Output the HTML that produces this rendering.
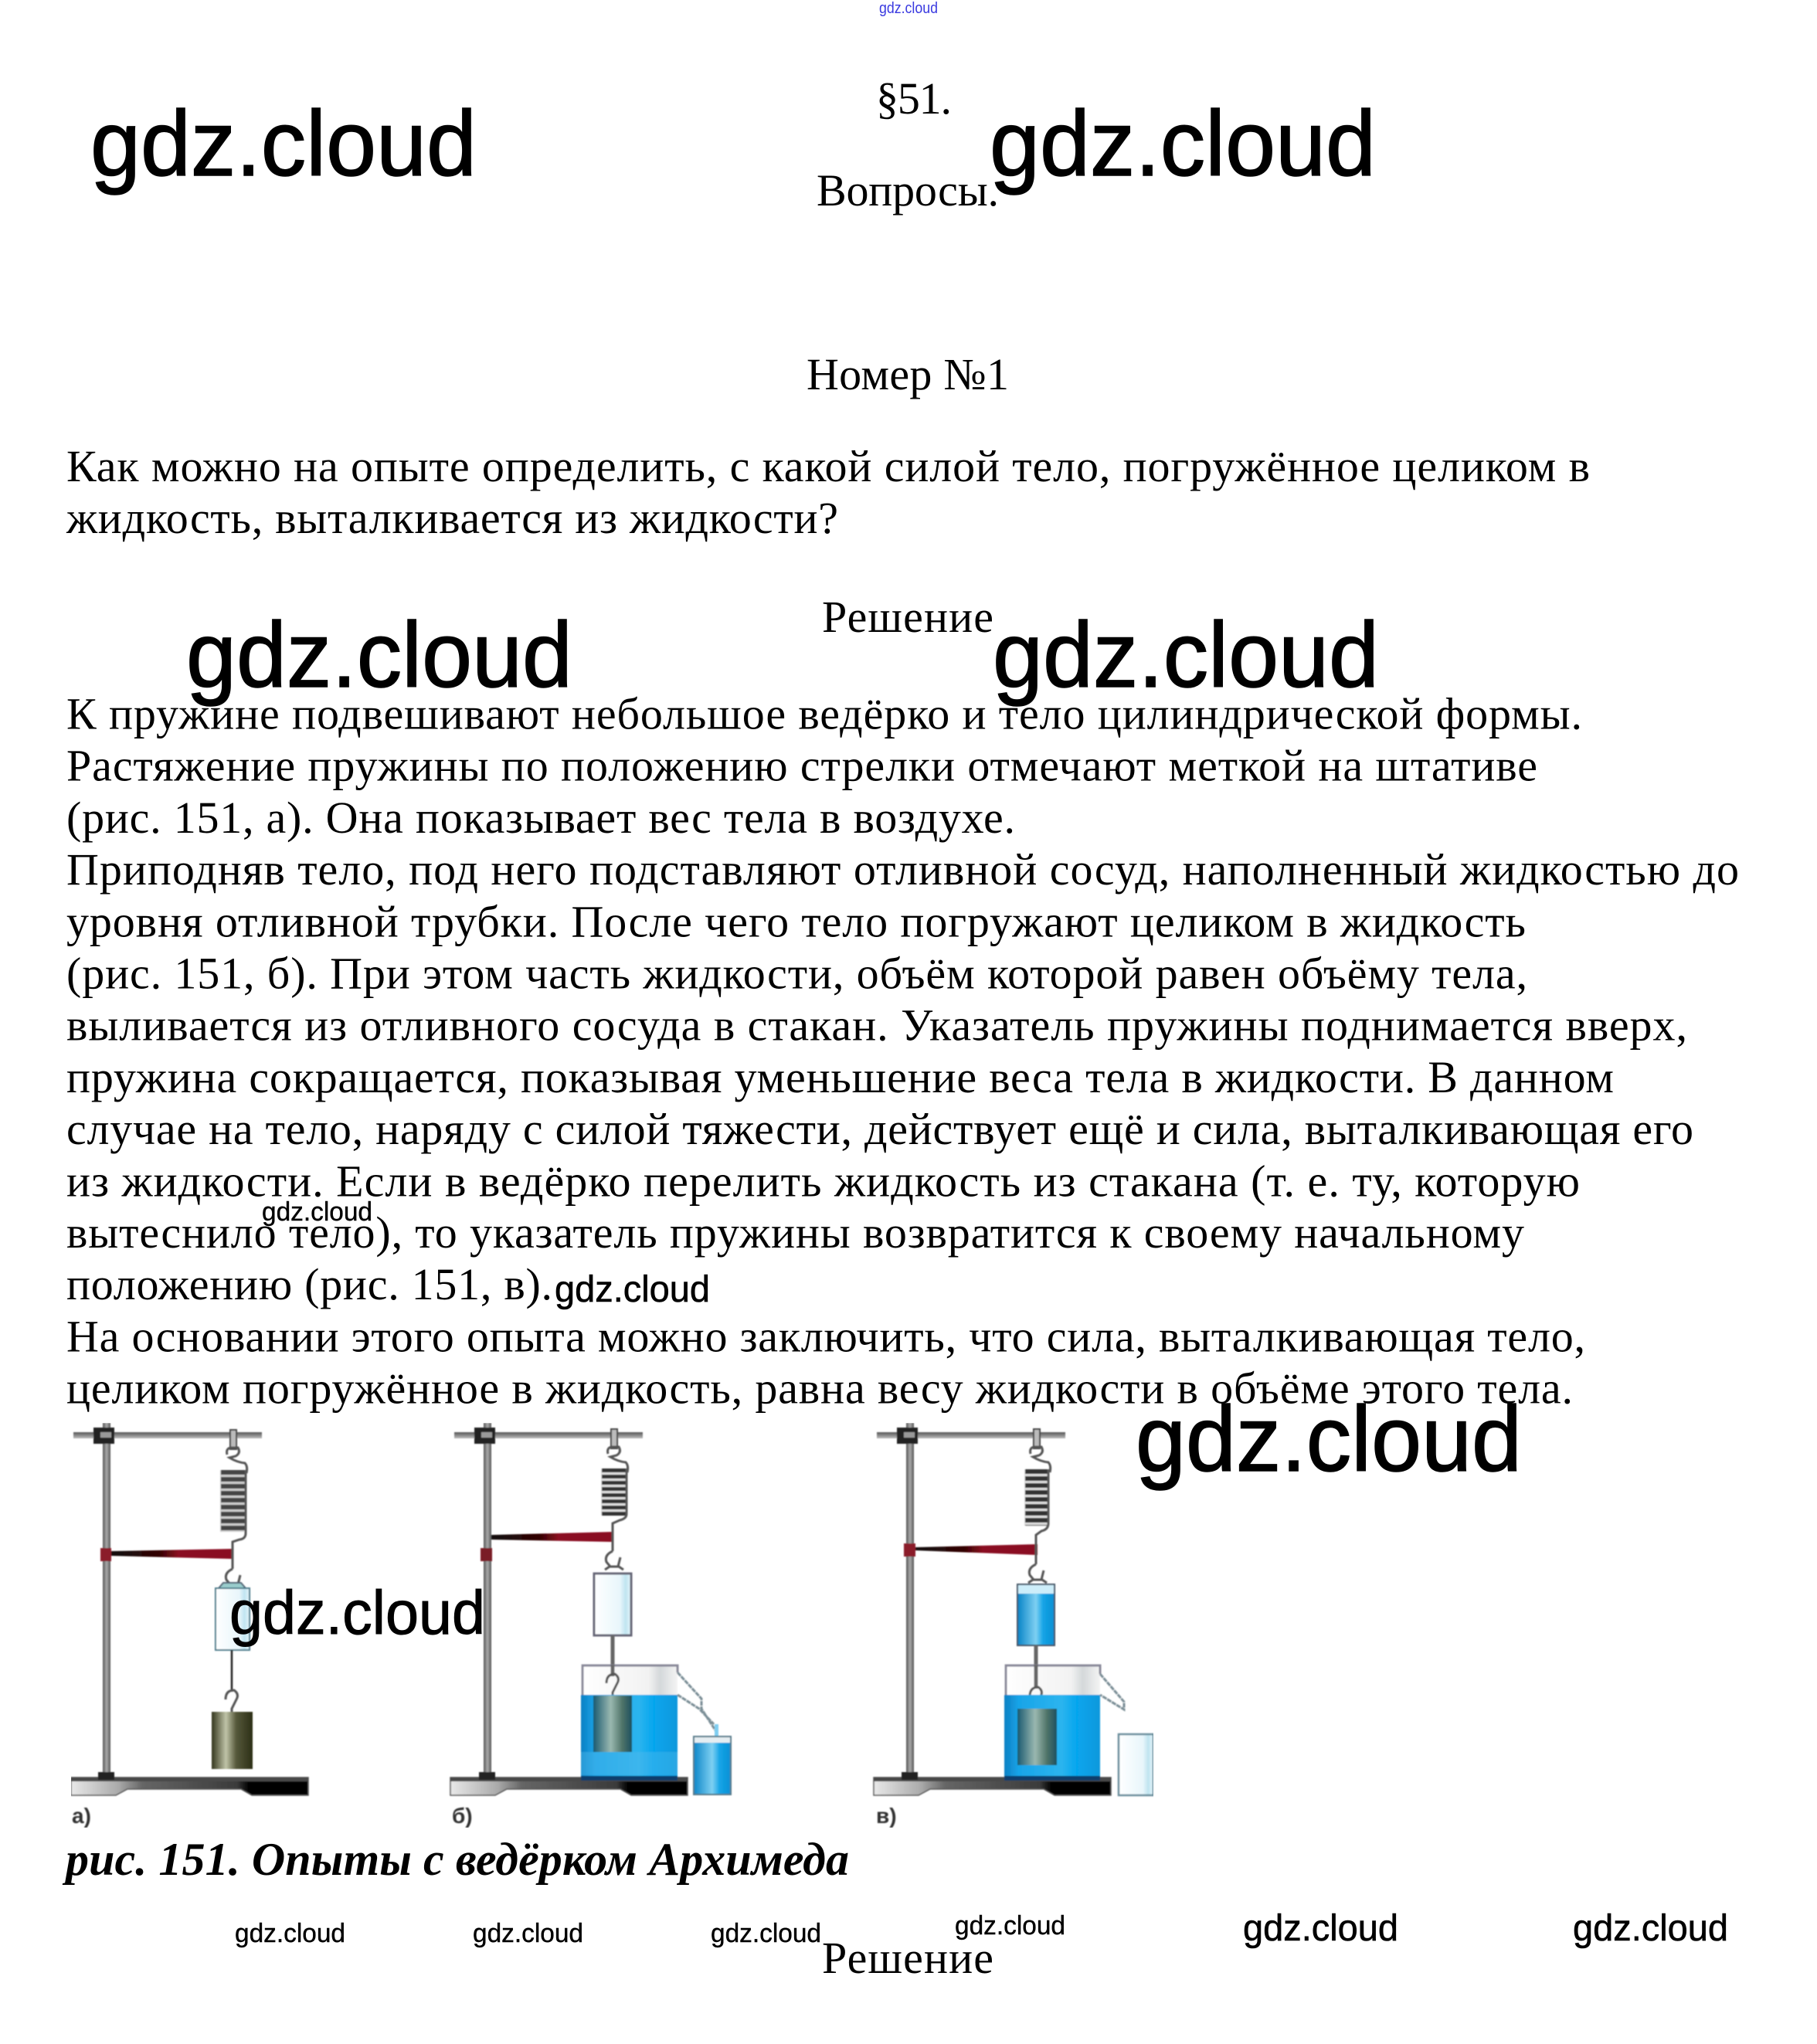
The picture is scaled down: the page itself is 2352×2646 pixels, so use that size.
<!DOCTYPE html>
<html lang="ru"><head><meta charset="utf-8"><title>§51</title>
<style>
html,body{margin:0;padding:0;background:#fff}
svg{display:block}
.t{font-family:"Liberation Serif","DejaVu Serif",serif;font-size:58px;fill:#000}
.c{font-family:"Liberation Serif","DejaVu Serif",serif;font-size:60px;font-weight:bold;font-style:italic;fill:#000}
.w{font-family:"Liberation Sans","DejaVu Sans",sans-serif;fill:#000;stroke:#000}
.l{font-family:"Liberation Sans","DejaVu Sans",sans-serif;font-size:28px;font-weight:bold;fill:#333}
</style></head><body>
<svg xmlns="http://www.w3.org/2000/svg" width="2352" height="2646" viewBox="0 0 2352 2646">
<defs>
<filter id="soft" x="0" y="0" width="1" height="1"><feGaussianBlur stdDeviation="0.7"/></filter>
<linearGradient id="base"><stop offset="0" stop-color="#e8e8e8"/><stop offset=".2" stop-color="#aaa"/><stop offset=".3" stop-color="#666"/><stop offset=".7" stop-color="#3a3a3a"/><stop offset=".75" stop-color="#000"/><stop offset="1" stop-color="#000"/></linearGradient>
<linearGradient id="vr"><stop offset="0" stop-color="#555"/><stop offset=".5" stop-color="#aaa"/><stop offset="1" stop-color="#555"/></linearGradient>
<linearGradient id="hr" x1="0" y1="0" x2="0" y2="1"><stop offset="0" stop-color="#555"/><stop offset=".5" stop-color="#888"/><stop offset="1" stop-color="#bbb"/></linearGradient>
<linearGradient id="ptr"><stop offset="0" stop-color="#111"/><stop offset=".4" stop-color="#300"/><stop offset=".55" stop-color="#8a1020"/><stop offset="1" stop-color="#8a1020"/></linearGradient>
<linearGradient id="olive"><stop offset="0" stop-color="#33351c"/><stop offset=".35" stop-color="#c0c4a8"/><stop offset=".6" stop-color="#55583a"/><stop offset="1" stop-color="#2c2e16"/></linearGradient>
<linearGradient id="wet"><stop offset="0" stop-color="#1a5a70"/><stop offset=".45" stop-color="#9ab8b0"/><stop offset=".75" stop-color="#4f7468"/><stop offset="1" stop-color="#1d5060"/></linearGradient>
<linearGradient id="water"><stop offset="0" stop-color="#0c80c4"/><stop offset=".15" stop-color="#18a4e8"/><stop offset=".6" stop-color="#2cb4ee"/><stop offset=".75" stop-color="#06a6ee"/><stop offset="1" stop-color="#0a98dc"/></linearGradient>
<linearGradient id="small"><stop offset="0" stop-color="#0c86c8"/><stop offset=".5" stop-color="#7ed0f2"/><stop offset=".7" stop-color="#14a4e6"/><stop offset="1" stop-color="#0a90d4"/></linearGradient>
<linearGradient id="pale"><stop offset="0" stop-color="#fff"/><stop offset=".7" stop-color="#e8f6fb"/><stop offset=".85" stop-color="#bfe4f0"/><stop offset="1" stop-color="#e8f6fb"/></linearGradient>
<linearGradient id="air"><stop offset="0" stop-color="#fff"/><stop offset=".7" stop-color="#f2f2f2"/><stop offset=".82" stop-color="#d4d8da"/><stop offset="1" stop-color="#f4f4f4"/></linearGradient>
<g id="stand">
<rect x="133" y="1842" width="10" height="456" fill="url(#vr)"/>
<rect x="95" y="1854" width="244" height="8" fill="url(#hr)"/>
<rect x="121" y="1848" width="27" height="21" fill="#222"/>
<rect x="130" y="1854" width="14" height="7" fill="#999"/>
<rect x="127" y="2294" width="21" height="10" fill="#222"/>
</g>
<g id="baseplate">
<path d="M92 2301H399V2324H326L312 2316H165L150 2324H92Z" fill="url(#base)" stroke="#555" stroke-width="1.5"/>
<rect x="92" y="2301" width="307" height="5" fill="#4a4a4a"/>
</g>
<g id="squig" fill="none" stroke="#555" stroke-width="3">
<rect x="-4" y="-26" width="8" height="25" fill="#bbb" stroke="#444" stroke-width="2"/>
<path d="M-8 6Q-10 -2 -3 -3H6Q10 4 3 8L-5 10Q5 16 15 17Q19 21 17 30"/>
</g>
<g id="ring" fill="none" stroke="#555" stroke-width="3">
<path d="M0 0Q-11 5 -8 14L-3 20H7L10 8"/>
<path d="M-10 24L-4 20M8 20L14 24"/>
</g>
<g id="hook" fill="none" stroke="#555" stroke-width="3">
<path d="M-8 12Q-8 0 3 0Q10 5 6 12L0 24V28"/>
</g>
</defs>

<g filter="url(#soft)">
<!-- figure a -->
<use href="#baseplate"/>
<use href="#stand"/>
<rect x="130" y="2004" width="14" height="17" fill="#8b1a2b"/>
<polygon points="144,2008 301,2005 301,2018 144,2014" fill="url(#ptr)"/>
<use href="#squig" x="302" y="1877"/>
<line x1="302" y1="1903" x2="302" y2="1983" stroke="#ccc" stroke-width="34"/>
<line x1="302" y1="1903" x2="302" y2="1983" stroke="#444" stroke-width="32" stroke-dasharray="6 3"/>
<path d="M318 1903V1985Q318 1992 310 1993L301 1996V2031" fill="none" stroke="#555" stroke-width="3"/>
<use href="#ring" x="301" y="2031"/>
<polygon points="283,2056 289,2049 312,2049 318,2056" fill="#9cc" stroke="#567" stroke-width="2"/>
<rect x="279" y="2056" width="44" height="80" fill="url(#pale)" stroke="#4a7a8a" stroke-width="2"/>
<line x1="300" y1="2136" x2="300" y2="2190" stroke="#222" stroke-width="2.5"/>
<use href="#hook" x="300" y="2188"/>
<rect x="274" y="2216" width="53" height="74" fill="url(#olive)"/>
<text class="l" x="93" y="2360">а)</text>

<!-- figure b -->
<use href="#baseplate" x="491"/>
<use href="#stand" x="493"/>
<rect x="622" y="2004" width="15" height="17" fill="#7a1a28"/>
<polygon points="636,1987 793,1983 793,1996 636,1993" fill="url(#ptr)"/>
<use href="#squig" x="795" y="1876"/>
<line x1="795" y1="1901" x2="795" y2="1962" stroke="#ddd" stroke-width="34"/>
<line x1="795" y1="1901" x2="795" y2="1962" stroke="#333" stroke-width="32" stroke-dasharray="5 3"/>
<path d="M811 1901V1960Q811 1966 802 1968L793 1972V2008" fill="none" stroke="#555" stroke-width="3"/>
<use href="#ring" x="793" y="2008"/>
<rect x="769" y="2037" width="48" height="80" fill="url(#pale)" stroke="#667" stroke-width="3"/>
<line x1="793" y1="2117" x2="793" y2="2170" stroke="#666" stroke-width="5"/>
<rect x="752" y="2155" width="125" height="39" fill="url(#air)"/>
<path d="M754 2194V2156H877V2165" fill="none" stroke="#889" stroke-width="3"/>
<line x1="793" y1="2155" x2="793" y2="2170" stroke="#666" stroke-width="5"/>
<use href="#hook" x="793" y="2167"/>
<rect x="752" y="2194" width="125" height="111" fill="url(#water)"/>
<rect x="752" y="2268" width="125" height="30" fill="#4fb8ec" opacity=".45"/>
<rect x="752" y="2299" width="125" height="6" fill="#083c6c"/>
<rect x="768" y="2195" width="50" height="73" fill="url(#wet)"/>
<path d="M877 2165L908 2199V2212L928 2243M877 2194L905 2212L924 2232" fill="none" stroke="#7a8e96" stroke-width="3" stroke-dasharray="6 1"/>
<rect x="925" y="2232" width="5" height="16" fill="#7ecdf0"/>
<rect x="898" y="2248" width="48" height="75" fill="url(#small)" stroke="#567a8a" stroke-width="2"/>
<rect x="899" y="2249" width="46" height="7" fill="#e6eef2"/>
<text class="l" x="585" y="2360">б)</text>

<!-- figure c -->
<use href="#baseplate" x="1039"/>
<use href="#stand" x="1040"/>
<rect x="1170" y="1998" width="15" height="17" fill="#8b1a2b"/>
<polygon points="1185,2003 1343,1999 1343,2013 1185,2007" fill="url(#ptr)"/>
<use href="#squig" x="1342" y="1876"/>
<line x1="1342" y1="1902" x2="1342" y2="1975" stroke="#ddd" stroke-width="32"/>
<line x1="1342" y1="1902" x2="1342" y2="1975" stroke="#333" stroke-width="30" stroke-dasharray="6 3"/>
<path d="M1357 1902V1972Q1357 1980 1348 1982L1341 1987V2025" fill="none" stroke="#555" stroke-width="3"/>
<use href="#ring" x="1341" y="2025"/>
<rect x="1317" y="2051" width="48" height="79" fill="#cdeefa" stroke="#456" stroke-width="2"/>
<rect x="1318" y="2063" width="46" height="66" fill="url(#small)"/>
<line x1="1341" y1="2130" x2="1341" y2="2186" stroke="#666" stroke-width="5"/>
<rect x="1300" y="2155" width="124" height="39" fill="url(#air)"/>
<path d="M1302 2194V2156H1424V2167" fill="none" stroke="#889" stroke-width="3"/>
<line x1="1341" y1="2155" x2="1341" y2="2186" stroke="#666" stroke-width="5"/>
<use href="#hook" x="1341" y="2184"/>
<rect x="1300" y="2194" width="124" height="111" fill="url(#water)"/>
<rect x="1300" y="2299" width="124" height="6" fill="#083c6c"/>
<rect x="1317" y="2212" width="51" height="73" fill="url(#wet)"/>
<path d="M1424 2167L1455 2203V2213L1424 2194" fill="none" stroke="#7a8e96" stroke-width="3" stroke-dasharray="6 1"/>
<rect x="1448" y="2245" width="45" height="79" fill="url(#pale)" stroke="#6a8e9c" stroke-width="2.5"/>
<text class="l" x="1134" y="2360">в)</text>
</g>

<!-- headings -->
<text class="t" x="1134" y="147" textLength="98" lengthAdjust="spacing">§51.</text>
<text class="t" x="1057" y="266" textLength="236" lengthAdjust="spacing">Вопросы.</text>
<text class="t" x="1044" y="504" textLength="262" lengthAdjust="spacing">Номер №1</text>
<text class="t" x="86" y="623" textLength="1972" lengthAdjust="spacing">Как можно на опыте определить, с какой силой тело, погружённое целиком в</text>
<text class="t" x="86" y="690" textLength="999" lengthAdjust="spacing">жидкость, выталкивается из жидкости?</text>
<text class="t" x="1064" y="818" textLength="222" lengthAdjust="spacing">Решение</text>

<!-- body -->
<text class="t" x="86" y="943.5" textLength="1962" lengthAdjust="spacing">К пружине подвешивают небольшое ведёрко и тело цилиндрической формы.</text>
<text class="t" x="86" y="1010.7" textLength="1904" lengthAdjust="spacing">Растяжение пружины по положению стрелки отмечают меткой на штативе</text>
<text class="t" x="86" y="1077.9" textLength="1228" lengthAdjust="spacing">(рис. 151, а). Она показывает вес тела в воздухе.</text>
<text class="t" x="86" y="1145.1" textLength="2165" lengthAdjust="spacing">Приподняв тело, под него подставляют отливной сосуд, наполненный жидкостью до</text>
<text class="t" x="86" y="1212.3" textLength="1889" lengthAdjust="spacing">уровня отливной трубки. После чего тело погружают целиком в жидкость</text>
<text class="t" x="86" y="1279.5" textLength="1891" lengthAdjust="spacing">(рис. 151, б). При этом часть жидкости, объём которой равен объёму тела,</text>
<text class="t" x="86" y="1346.7" textLength="2098" lengthAdjust="spacing">выливается из отливного сосуда в стакан. Указатель пружины поднимается вверх,</text>
<text class="t" x="86" y="1413.9" textLength="2003" lengthAdjust="spacing">пружина сокращается, показывая уменьшение веса тела в жидкости. В данном</text>
<text class="t" x="86" y="1481.1" textLength="2106" lengthAdjust="spacing">случае на тело, наряду с силой тяжести, действует ещё и сила, выталкивающая его</text>
<text class="t" x="86" y="1548.3" textLength="1959" lengthAdjust="spacing">из жидкости. Если в ведёрко перелить жидкость из стакана (т. е. ту, которую</text>
<text class="t" x="86" y="1615" textLength="1887" lengthAdjust="spacing">вытеснило тело), то указатель пружины возвратится к своему начальному</text>
<text class="t" x="86" y="1682" textLength="629" lengthAdjust="spacing">положению (рис. 151, в).</text>
<text class="t" x="86" y="1749.5" textLength="1966" lengthAdjust="spacing">На основании этого опыта можно заключить, что сила, выталкивающая тело,</text>
<text class="t" x="86" y="1816.5" textLength="1950" lengthAdjust="spacing">целиком погружённое в жидкость, равна весу жидкости в объёме этого тела.</text>

<text class="c" x="85" y="2427" textLength="1014" lengthAdjust="spacing">рис. 151. Опыты с ведёрком Архимеда</text>
<text class="t" x="1064" y="2554" textLength="222" lengthAdjust="spacing">Решение</text>

<!-- watermarks -->
<text class="w" x="1138" y="17" font-size="20" style="fill:#3a3ae0;stroke:none" textLength="76" lengthAdjust="spacingAndGlyphs">gdz.cloud</text>
<text class="w" x="117" y="227" font-size="120" stroke-width="1.5" textLength="500" lengthAdjust="spacingAndGlyphs">gdz.cloud</text>
<text class="w" x="1281" y="227" font-size="120" stroke-width="1.5" textLength="500" lengthAdjust="spacingAndGlyphs">gdz.cloud</text>
<text class="w" x="241" y="889" font-size="120" stroke-width="1.5" textLength="500" lengthAdjust="spacingAndGlyphs">gdz.cloud</text>
<text class="w" x="1285" y="889" font-size="120" stroke-width="1.5" textLength="500" lengthAdjust="spacingAndGlyphs">gdz.cloud</text>
<text class="w" x="1470" y="1904" font-size="120" stroke-width="1.5" textLength="500" lengthAdjust="spacingAndGlyphs">gdz.cloud</text>
<text class="w" x="297" y="2115" font-size="80" stroke-width="1" textLength="331" lengthAdjust="spacingAndGlyphs">gdz.cloud</text>
<text class="w" x="339" y="1580" font-size="34" stroke-width=".4" textLength="143" lengthAdjust="spacingAndGlyphs">gdz.cloud</text>
<text class="w" x="718" y="1685" font-size="48" stroke-width=".6" textLength="201" lengthAdjust="spacingAndGlyphs">gdz.cloud</text>
<text class="w" x="304" y="2514" font-size="34" stroke-width=".4" textLength="143" lengthAdjust="spacingAndGlyphs">gdz.cloud</text>
<text class="w" x="612" y="2514" font-size="34" stroke-width=".4" textLength="143" lengthAdjust="spacingAndGlyphs">gdz.cloud</text>
<text class="w" x="920" y="2514" font-size="34" stroke-width=".4" textLength="143" lengthAdjust="spacingAndGlyphs">gdz.cloud</text>
<text class="w" x="1236" y="2504" font-size="34" stroke-width=".4" textLength="143" lengthAdjust="spacingAndGlyphs">gdz.cloud</text>
<text class="w" x="1609" y="2512" font-size="48" stroke-width=".6" textLength="201" lengthAdjust="spacingAndGlyphs">gdz.cloud</text>
<text class="w" x="2036" y="2512" font-size="48" stroke-width=".6" textLength="201" lengthAdjust="spacingAndGlyphs">gdz.cloud</text>
</svg>
</body></html>
